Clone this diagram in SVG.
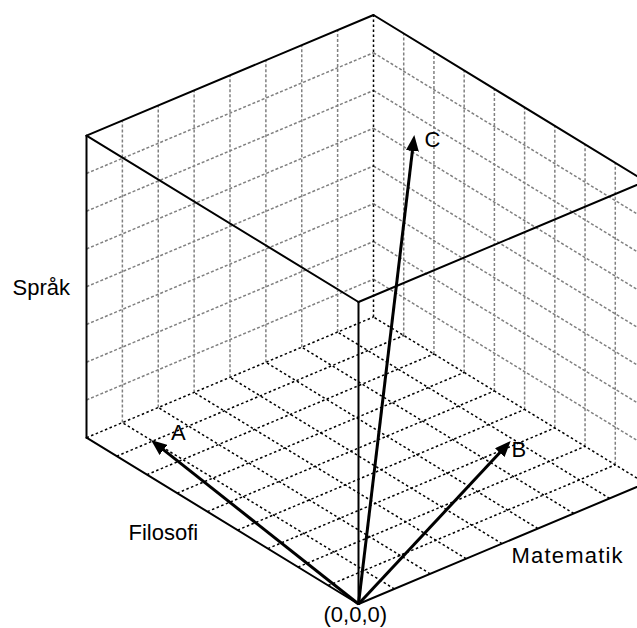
<svg xmlns="http://www.w3.org/2000/svg" width="637" height="628" viewBox="0 0 637 628">
<style>
.wall{stroke:#808080;stroke-width:1.5;stroke-dasharray:3 2;fill:none}
.floor{stroke:#000;stroke-width:1.5;stroke-dasharray:2.5 2.5;fill:none}
.edge{stroke:#000;stroke-width:2;fill:none;stroke-linecap:round}
.vec{stroke:#000;stroke-width:3;fill:none}
text{font-family:"Liberation Sans",Arial,sans-serif;font-size:22px;fill:#000}
</style>
<defs>
<marker id="ah" viewBox="0 0 16 13" refX="6" refY="6.5" markerWidth="16" markerHeight="13" markerUnits="userSpaceOnUse" orient="auto">
<path d="M0,0 L16,6.5 L0,13 Z" fill="#000"/>
</marker>
</defs>
<rect width="637" height="628" fill="#fff"/>
<g id="left-wall-grid" class="wall">
<line x1="122.375" y1="422.6125" x2="122.375" y2="120.6125"/>
<line x1="158.25" y1="407.525" x2="158.25" y2="105.525"/>
<line x1="194.125" y1="392.4375" x2="194.125" y2="90.4375"/>
<line x1="230" y1="377.35" x2="230" y2="75.35"/>
<line x1="265.875" y1="362.2625" x2="265.875" y2="60.2625"/>
<line x1="301.75" y1="347.175" x2="301.75" y2="45.175"/>
<line x1="337.625" y1="332.0875" x2="337.625" y2="30.0875"/>
<line x1="86.5" y1="399.95" x2="373.5" y2="279.25"/>
<line x1="86.5" y1="362.2" x2="373.5" y2="241.5"/>
<line x1="86.5" y1="324.45" x2="373.5" y2="203.75"/>
<line x1="86.5" y1="286.7" x2="373.5" y2="166"/>
<line x1="86.5" y1="248.95" x2="373.5" y2="128.25"/>
<line x1="86.5" y1="211.2" x2="373.5" y2="90.5"/>
<line x1="86.5" y1="173.45" x2="373.5" y2="52.75"/>
</g>
<g id="right-wall-grid" class="wall">
<line x1="615.278" y1="464.822" x2="615.278" y2="162.822"/>
<line x1="585.056" y1="446.344" x2="585.056" y2="144.344"/>
<line x1="554.833" y1="427.867" x2="554.833" y2="125.867"/>
<line x1="524.611" y1="409.389" x2="524.611" y2="107.389"/>
<line x1="494.389" y1="390.911" x2="494.389" y2="88.911"/>
<line x1="464.167" y1="372.433" x2="464.167" y2="70.433"/>
<line x1="433.944" y1="353.956" x2="433.944" y2="51.956"/>
<line x1="403.722" y1="335.478" x2="403.722" y2="33.478"/>
<line x1="373.5" y1="279.25" x2="645.5" y2="445.55"/>
<line x1="373.5" y1="241.5" x2="645.5" y2="407.8"/>
<line x1="373.5" y1="203.75" x2="645.5" y2="370.05"/>
<line x1="373.5" y1="166" x2="645.5" y2="332.3"/>
<line x1="373.5" y1="128.25" x2="645.5" y2="294.55"/>
<line x1="373.5" y1="90.5" x2="645.5" y2="256.8"/>
<line x1="373.5" y1="52.75" x2="645.5" y2="219.05"/>
</g>
<g id="floor-grid" class="floor">
<line x1="328.278" y1="585.522" x2="615.278" y2="464.822"/>
<line x1="298.056" y1="567.044" x2="585.056" y2="446.344"/>
<line x1="267.833" y1="548.567" x2="554.833" y2="427.867"/>
<line x1="237.611" y1="530.089" x2="524.611" y2="409.389"/>
<line x1="207.389" y1="511.611" x2="494.389" y2="390.911"/>
<line x1="177.167" y1="493.133" x2="464.167" y2="372.433"/>
<line x1="146.944" y1="474.656" x2="433.944" y2="353.956"/>
<line x1="116.722" y1="456.178" x2="403.722" y2="335.478"/>
<line x1="86.5" y1="437.7" x2="373.5" y2="317"/>
<line x1="394.375" y1="588.9125" x2="122.375" y2="422.6125"/>
<line x1="430.25" y1="573.825" x2="158.25" y2="407.525"/>
<line x1="466.125" y1="558.7375" x2="194.125" y2="392.4375"/>
<line x1="502" y1="543.65" x2="230" y2="377.35"/>
<line x1="537.875" y1="528.5625" x2="265.875" y2="362.2625"/>
<line x1="573.75" y1="513.475" x2="301.75" y2="347.175"/>
<line x1="609.625" y1="498.3875" x2="337.625" y2="332.0875"/>
<line x1="645.5" y1="483.3" x2="373.5" y2="317"/>
<line x1="373.5" y1="317" x2="373.5" y2="15"/>
</g>
<g id="cube-edges" class="edge">
<line x1="358.5" y1="604" x2="86.5" y2="437.7"/>
<line x1="358.5" y1="604" x2="645.5" y2="483.3"/>
<line x1="358.5" y1="604" x2="358.5" y2="302"/>
<line x1="86.5" y1="437.7" x2="86.5" y2="135.7"/>
<line x1="645.5" y1="483.3" x2="645.5" y2="181.3"/>
<line x1="358.5" y1="302" x2="86.5" y2="135.7"/>
<line x1="358.5" y1="302" x2="645.5" y2="181.3"/>
<line x1="86.5" y1="135.7" x2="373.5" y2="15"/>
<line x1="373.5" y1="15" x2="645.5" y2="181.3"/>
</g>
<g id="connectors">
<line id="vec-A" class="vec" x1="358.5" y1="604" x2="158.86" y2="446.18" marker-end="url(#ah)"/>
<line id="vec-B" class="vec" x1="358.5" y1="604" x2="503.87" y2="448.30" marker-end="url(#ah)"/>
<line id="vec-C" class="vec" x1="358.5" y1="604" x2="413.12" y2="144.93" marker-end="url(#ah)"/>
</g>
<g id="label-A"><text x="171" y="439.5">A</text></g>
<g id="label-B"><text x="511.5" y="456.5">B</text></g>
<g id="label-C"><text x="424.5" y="146.5">C</text></g>
<g id="axis-sprak"><text x="12.5" y="295">Språk</text></g>
<g id="axis-filosofi"><text x="128.5" y="540">Filosofi</text></g>
<g id="axis-matematik"><text x="511.5" y="563" letter-spacing="1.2">Matematik</text></g>
<g id="origin"><text x="323.5" y="622">(0,0,0)</text></g>
</svg>
